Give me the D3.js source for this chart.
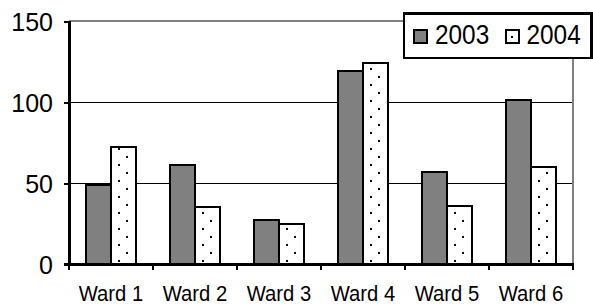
<!DOCTYPE html>
<meta charset="utf-8">
<html>
    <head>
        <script src="https://d3js.org/d3.v7.min.js"></script>
    </head>
    <style>
        body { margin: 0; background: #fff; }
        text { font-family: "Liberation Sans", Arial, sans-serif; fill: #000; }
        line, rect, path { shape-rendering: crispEdges; }
    </style>
    <body>

        <div id="bar_viz"></div>

        <script>

            var categories = ["Ward 1", "Ward 2", "Ward 3", "Ward 4", "Ward 5", "Ward 6"];
            var series = ["2003", "2004"];
            var values2003 = [49, 61, 27, 119, 57, 101];
            var values2004 = [72, 35, 25, 124, 36, 60];
            var yTicks = [0, 50, 100, 150];

            var width = 593, height = 306;
            var plotLeft = 69, plotRight = 573, plotTop = 21, plotBottom = 264;

            var svg = d3.select("#bar_viz")
                .append("svg")
                .attr("width", width)
                .attr("height", height);

            var x = d3.scaleBand().domain(categories).range([plotLeft, plotRight]);
            var x1 = d3.scaleBand().domain(series).range([0, x.bandwidth()]).paddingOuter(0.68);
            var y = d3.scaleLinear().domain([0, 150]).range([plotBottom, plotTop]);

            // dotted fill for 2004 (used inside each translated category group)
            var defs = svg.append("defs");
            var pat = defs.append("pattern")
                .attr("id", "dots")
                .attr("patternUnits", "userSpaceOnUse")
                .attr("x", x1("2004"))
                .attr("y", 148)
                .attr("width", x.step())
                .attr("height", 16);
            pat.append("rect").attr("width", x.step()).attr("height", 16).attr("fill", "#fff");
            pat.append("rect").attr("x", 7).attr("y", 0).attr("width", 2).attr("height", 2).attr("fill", "#000");
            pat.append("rect").attr("x", 15).attr("y", 8).attr("width", 2).attr("height", 2).attr("fill", "#000");

            // gridlines
            svg.append("g")
                .selectAll("line")
                .data([50, 100])
                .join("line")
                .attr("x1", plotLeft).attr("x2", plotRight)
                .attr("y1", d => Math.round(y(d)) + 0.5).attr("y2", d => Math.round(y(d)) + 0.5)
                .attr("stroke", "#000")
                .attr("stroke-width", 1);

            // plot area border (top and right)
            svg.append("path")
                .attr("d", `M${plotLeft},${y(150)}H${plotRight}V${plotBottom}`)
                .attr("fill", "none")
                .attr("stroke", "#808080")
                .attr("stroke-width", 2);

            // bars
            var rows = categories.map((c, i) => ({cat: c, vals: [values2003[i], values2004[i]]}));
            svg.append("g")
                .attr("stroke", "#000")
                .attr("stroke-width", 2)
                .selectAll("g")
                .data(rows)
                .join("g")
                .attr("transform", d => `translate(${x(d.cat)},0)`)
                .selectAll("rect")
                .data(d => d.vals.map((v, j) => ({s: series[j], v: v})))
                .join("rect")
                .attr("x", d => x1(d.s))
                .attr("width", x1.bandwidth())
                .attr("y", d => y(d.v))
                .attr("height", d => y(0) - y(d.v))
                .attr("fill", d => d.s === "2003" ? "#808080" : "url(#dots)");

            // y axis
            var yAxis = svg.append("g")
                .attr("transform", `translate(${plotLeft},0)`)
                .call(d3.axisLeft(y).tickValues(yTicks).tickSize(5).tickSizeOuter(0).tickPadding(11));
            yAxis.select(".domain").remove();
            yAxis.selectAll(".tick line").attr("stroke", "#000").attr("stroke-width", 2);
            yAxis.selectAll("text")
                .attr("font-size", 25)
                .attr("font-family", null)
                .attr("dy", "0.38em");
            svg.append("line")
                .attr("x1", plotLeft).attr("x2", plotLeft)
                .attr("y1", plotTop).attr("y2", plotBottom)
                .attr("stroke", "#000")
                .attr("stroke-width", 3);

            // x axis
            var xAxis = svg.append("g")
                .attr("transform", `translate(0,${plotBottom})`)
                .call(d3.axisBottom(x).tickSize(0).tickSizeOuter(0));
            xAxis.select(".domain").remove();
            xAxis.selectAll("text")
                .attr("font-size", 22)
                .attr("font-family", null)
                .attr("y", 37)
                .attr("dy", 0)
                .attr("transform", "scale(0.92,1)");
            svg.append("g")
                .selectAll("line")
                .data(categories.map(c => x(c)).concat([plotRight]))
                .join("line")
                .attr("x1", d => d).attr("x2", d => d)
                .attr("y1", plotBottom).attr("y2", plotBottom + 6)
                .attr("stroke", "#000")
                .attr("stroke-width", 2);
            svg.append("line")
                .attr("x1", plotLeft - 5).attr("x2", plotRight + 1)
                .attr("y1", plotBottom).attr("y2", plotBottom)
                .attr("stroke", "#000")
                .attr("stroke-width", 3);

            // legend
            var lg = svg.append("g");
            lg.append("rect")
                .attr("x", 404).attr("y", 13.5)
                .attr("width", 187.5).attr("height", 44.5)
                .attr("fill", "#fff")
                .attr("stroke", "#000")
                .attr("stroke-width", 2.5);
            var items = lg.selectAll("g")
                .data(series)
                .join("g")
                .attr("transform", (d, i) => `translate(${414 + i * 91.5},30)`);
            items.append("rect")
                .attr("width", 13).attr("height", 13)
                .attr("fill", d => d === "2003" ? "#808080" : "#fff")
                .attr("stroke", "#000")
                .attr("stroke-width", 2);
            items.filter(d => d === "2004").append("rect")
                .attr("x", 5.5).attr("y", 5.5)
                .attr("width", 2).attr("height", 2)
                .attr("fill", "#000");
            items.append("text")
                .attr("transform", "translate(21,13.5) scale(0.87,1)")
                .attr("font-size", 28)
                .attr("font-family", null)
                .text(d => d);

        </script>
    </body>
</html>
